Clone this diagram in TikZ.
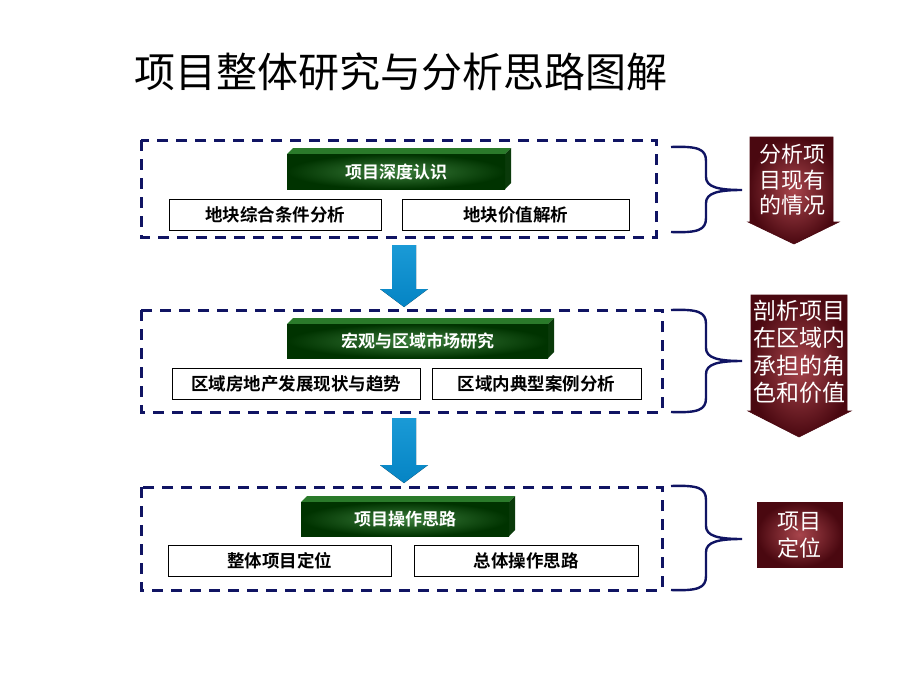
\documentclass[tikz,border=0pt]{standalone}
\usepackage{fontspec}
\newfontfamily\cjk{Noto Sans CJK SC}[BoldFont={Noto Sans CJK SC Bold}]
\usetikzlibrary{calc}
\definecolor{navy}{HTML}{101463}
\definecolor{gdark}{HTML}{003300}
\definecolor{glight}{HTML}{3C7F3C}
\definecolor{gtop}{HTML}{2A7A2A}
\definecolor{gside}{HTML}{0A3A0A}
\definecolor{rdark}{HTML}{4A0810}
\definecolor{rlight}{HTML}{A8454C}
\definecolor{blueA}{HTML}{1A9AD6}
\definecolor{blueB}{HTML}{0584C4}
\tikzset{
  dashbox/.style={draw=navy, line width=3pt, dash pattern=on 11pt off 8pt},
  whitebox/.style={draw=black, line width=0.8pt, fill=white, inner sep=0pt},
  boxtext/.style={font=\cjk\bfseries\fontsize{17.5}{20}\selectfont, text=black},
  headtext/.style={font=\cjk\bfseries\fontsize{17}{20}\selectfont, text=white},
  redtext/.style={font=\cjk\fontsize{22}{25.5}\selectfont, text=white, align=center},
  brace/.style={draw=navy, line width=2.4pt},
  bluearrow/.style={top color=blueA, bottom color=blueB, draw=none},
  redshade/.style={inner color=rlight, outer color=rdark, draw=rdark, line width=0.6pt},
}
\newcommand{\greenhead}[6]{% name, x1, y1, x2, y2, text
  \fill[gtop] (#2,#3+6) -- (#2+6,#3) -- (#4,#3) -- (#4-6,#3+6) -- cycle;
  \fill[gside] (#4-6,#3+6) -- (#4,#3) -- (#4,#5-6) -- (#4-6,#5) -- cycle;
  \shade[inner color=glight, outer color=gdark] (#2,#3+6) rectangle (#4-6,#5);
  \node[headtext] (#1) at ({(#2+#4-6)/2},{(#3+6+#5)/2}) {#6};
}
\newcommand{\wbox}[6]{% name, x1,y1,x2,y2,text
  \draw[whitebox] (#2,#3) rectangle (#4,#5);
  \node[boxtext] (#1) at ({(#2+#4)/2},{(#3+#5)/2}) {#6};
}
\newcommand{\bracepath}[3]{% top, tip, bottom
  \draw[brace] (671,#1) .. controls (698,#1-1) and (706,#1+2) .. (706,#1+14)
    -- (706,#2-13) .. controls (706,#2-3) and (718,#2) .. (742,#2)
    (742,#2) .. controls (718,#2) and (706,#2+3) .. (706,#2+13)
    -- (706,#3-14) .. controls (706,#3-2) and (698,#3+1) .. (671,#3);
}
\begin{document}
\begin{tikzpicture}[x=1pt,y=-1pt]
\useasboundingbox (0,0) rectangle (920,690);
\fill[white] (0,0) rectangle (920,690);
% title
\node[font=\cjk\fontsize{41}{46}\selectfont, anchor=west, inner sep=0pt] (title) at (134,72) {项目整体研究与分析思路图解};

% section 1
\draw[dashbox] (141,140) rectangle (656,237);
\greenhead{h1}{287}{148}{511}{189}{项目深度认识}
\wbox{b11}{169}{199}{381}{230}{地块综合条件分析}
\wbox{b12}{402}{199}{629}{230}{地块价值解析}

% arrow 1
\fill[bluearrow] (392,245) -- (416,245) -- (416,289) -- (428,289) -- (404,307) -- (380,289) -- (392,289) -- cycle;

% section 2
\draw[dashbox] (141,310) rectangle (662,412);
\greenhead{h2}{287}{318}{554}{358}{宏观与区域市场研究}
\wbox{b21}{172}{368}{420}{399}{区域房地产发展现状与趋势}
\wbox{b22}{432}{368}{641}{399}{区域内典型案例分析}

% arrow 2
\fill[bluearrow] (392,418) -- (416,418) -- (416,465) -- (428,465) -- (404,483) -- (380,465) -- (392,465) -- cycle;

% section 3
\draw[dashbox] (141,487) rectangle (662,590);
\greenhead{h3}{301}{496}{515}{536}{项目操作思路}
\wbox{b31}{168}{545}{391}{576}{整体项目定位}
\wbox{b32}{414}{545}{638}{576}{总体操作思路}

% braces
\bracepath{147}{190}{232}
\bracepath{310}{361}{412}
\bracepath{486}{539}{590}

% red arrow 1
\shade[redshade] (750,137) -- (833,137) -- (833,222) -- (839,222) -- (794,244) -- (748,222) -- (750,222) -- cycle;
\node[redtext] (r1) at (792,180) {分析项\\目现有\\的情况};

% red arrow 2
\shade[redshade] (751,295) -- (847,295) -- (847,411) -- (851,411) -- (799,437) -- (748,411) -- (751,411) -- cycle;
\node[redtext, font=\cjk\fontsize{23}{27.5}\selectfont] (r2) at (799,352) {剖析项目\\在区域内\\承担的角\\色和价值};

% red box 3
\shade[redshade] (757,502) rectangle (842,567);
\node[redtext, font=\cjk\fontsize{22}{27}\selectfont] (r3) at (799.5,535) {项目\\定位};
\end{tikzpicture}
\end{document}
